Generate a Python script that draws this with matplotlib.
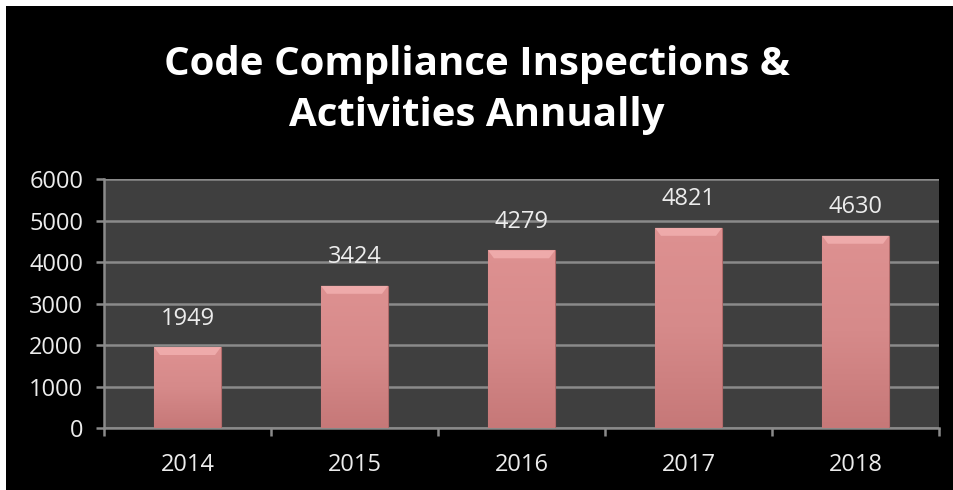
import numpy as np
import matplotlib
matplotlib.use("Agg")
import matplotlib.pyplot as plt
from matplotlib.patches import Rectangle, Polygon
from matplotlib.colors import LinearSegmentedColormap

# 데이터
years = ["2014", "2015", "2016", "2017", "2018"]
counts = [1949, 3424, 4279, 4821, 4630]
y_ticks = [0, 1000, 2000, 3000, 4000, 5000, 6000]

TITLE = "Code Compliance Inspections &\nActivities Annually"

plt.rcParams['font.family'] = ['Open Sans', 'DejaVu Sans']

W, H = 954, 490
fig = plt.figure(figsize=(W / 100, H / 100), dpi=100, facecolor="white")

# 검은 배경 (왼쪽/위쪽 흰 테두리 남김)
fig.patches.append(Rectangle((6 / W, 0), 1 - 6 / W, (H - 6) / H,
                             transform=fig.transFigure, facecolor="black",
                             edgecolor="none", zorder=-10))

ax = fig.add_axes([104 / W, 1 - 428 / H, (939 - 104) / W, (428 - 179) / H])
ax.set_zorder(2)
ax.set_facecolor("#3f3f3f")

x = np.arange(len(years))
bar_w = 0.40
bars = ax.bar(x, counts, width=bar_w, color="#d08585", edgecolor="#b06a6a",
              linewidth=0.8, zorder=3)

# 막대 그라데이션 + 윗면 베벨
cmap = LinearSegmentedColormap.from_list("pinkgrad", ["#c67878", "#d68a8a", "#de9191"])
grad = np.linspace(0, 1, 256).reshape(-1, 1)
bev_h = 190      # 베벨 높이 (데이터 단위, 약 8px)
bev_in = 0.035   # 베벨 안쪽 들여쓰기
for b in bars:
    x0, y0, bw, bh = b.get_x(), b.get_y(), b.get_width(), b.get_height()
    im = ax.imshow(grad, cmap=cmap, aspect="auto", origin="lower",
                   extent=(x0, x0 + bw, y0, y0 + bh), zorder=3.5)
    im.set_clip_path(b)
    top = y0 + bh
    ax.add_patch(Polygon([(x0, top), (x0 + bw, top),
                          (x0 + bw - bev_in, top - bev_h), (x0 + bev_in, top - bev_h)],
                         closed=True, facecolor="#eeaaaa", edgecolor="none", zorder=4))

ax.set_xlim(-0.5, len(years) - 0.5)
ax.set_ylim(0, 6000)
ax.set_yticks(y_ticks)
ax.set_yticklabels([str(v) for v in y_ticks])
ax.set_xticks(x)
ax.set_xticklabels(years)
ax.set_xticks(np.arange(-0.5, len(years), 1), minor=True)

ax.grid(axis="y", color="#8a8a8a", linewidth=1.8, zorder=1)
ax.set_axisbelow(True)

for side in ["top", "right"]:
    ax.spines[side].set_visible(False)
for side in ["left", "bottom"]:
    ax.spines[side].set_color("#8a8a8a")
    ax.spines[side].set_linewidth(1.8)

ax.tick_params(axis="y", colors="#8a8a8a", labelcolor="#ececec", labelsize=17,
               length=6, width=1.8, pad=9)
ax.tick_params(axis="x", which="major", length=0, labelcolor="#ececec",
               labelsize=17, pad=18)
ax.tick_params(axis="x", which="minor", colors="#8a8a8a", length=6, width=1.8)

for xi, v in zip(x, counts):
    ax.text(xi, v + 400, str(v), ha="center", va="bottom", color="#ececec",
            fontsize=17, zorder=5)

fig.text(0.5, 1 - 90 / H, TITLE, ha="center", va="center", color="white",
         fontsize=29, fontweight="bold", linespacing=1.4)

fig.savefig("out.png", dpi=100, facecolor=fig.get_facecolor())
